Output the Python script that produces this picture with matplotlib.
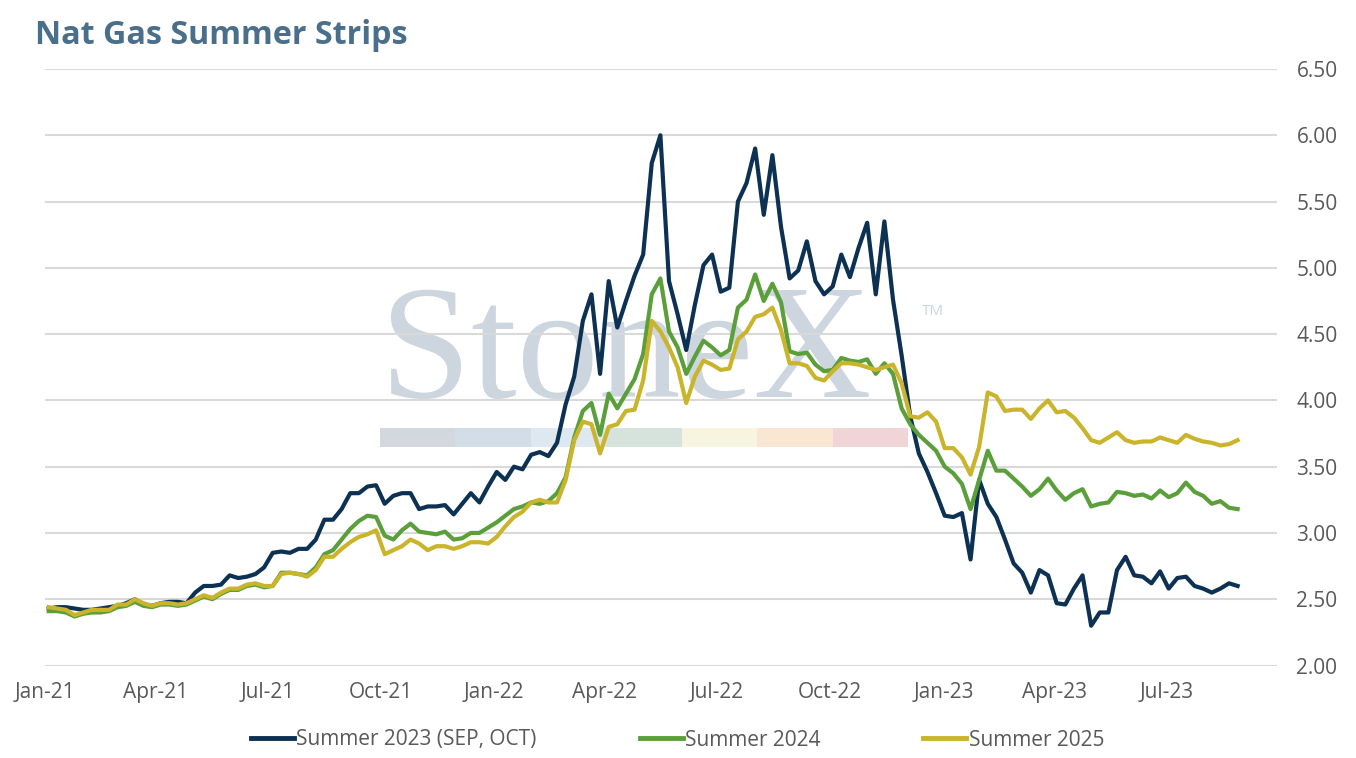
import numpy as np
import pandas as pd
import matplotlib
matplotlib.use("Agg")
import matplotlib.pyplot as plt
from matplotlib.lines import Line2D
from matplotlib.patches import Rectangle

# ---------------- data ----------------
dates = pd.date_range("2021-01-04", periods=139, freq="7D")

summer_2023 = [
    2.43, 2.44, 2.44, 2.43, 2.42, 2.42, 2.43, 2.44, 2.45, 2.47,
    2.50, 2.46, 2.45, 2.47, 2.48, 2.48, 2.47, 2.55, 2.60, 2.60,
    2.61, 2.68, 2.66, 2.67, 2.69, 2.74, 2.85, 2.86, 2.85, 2.88,
    2.88, 2.95, 3.10, 3.10, 3.18, 3.30, 3.30, 3.35, 3.36, 3.22,
    3.28, 3.30, 3.30, 3.18, 3.20, 3.20, 3.21, 3.14, 3.22, 3.30,
    3.23, 3.35, 3.46, 3.40, 3.50, 3.48, 3.59, 3.61, 3.58, 3.68,
    3.97, 4.18, 4.60, 4.80, 4.20, 4.90, 4.55, 4.75, 4.94, 5.10,
    5.79, 6.00, 4.90, 4.65, 4.38, 4.72, 5.02, 5.10, 4.82, 4.85,
    5.50, 5.64, 5.90, 5.40, 5.85, 5.31, 4.92, 4.98, 5.20, 4.90,
    4.80, 4.86, 5.10, 4.93, 5.15, 5.34, 4.80, 5.35, 4.76, 4.34,
    3.88, 3.60, 3.46, 3.30, 3.13, 3.12, 3.15, 2.80, 3.40, 3.22,
    3.12, 2.95, 2.77, 2.70, 2.55, 2.72, 2.68, 2.47, 2.46, 2.58,
    2.68, 2.30, 2.40, 2.40, 2.72, 2.82, 2.68, 2.67, 2.62, 2.71,
    2.58, 2.66, 2.67, 2.60, 2.58, 2.55, 2.58, 2.62, 2.60,
]

summer_2024 = [
    2.41, 2.41, 2.40, 2.37, 2.39, 2.40, 2.40, 2.41, 2.44, 2.45,
    2.48, 2.45, 2.44, 2.46, 2.46, 2.45, 2.46, 2.49, 2.52, 2.50,
    2.54, 2.57, 2.57, 2.60, 2.61, 2.59, 2.60, 2.70, 2.70, 2.69,
    2.68, 2.74, 2.84, 2.87, 2.95, 3.03, 3.09, 3.13, 3.12, 2.98,
    2.95, 3.02, 3.07, 3.01, 3.00, 2.99, 3.01, 2.95, 2.96, 3.00,
    3.00, 3.04, 3.08, 3.13, 3.18, 3.20, 3.23, 3.22, 3.24, 3.30,
    3.42, 3.72, 3.92, 3.98, 3.74, 4.05, 3.94, 4.05, 4.16, 4.35,
    4.80, 4.92, 4.52, 4.40, 4.20, 4.33, 4.45, 4.40, 4.34, 4.38,
    4.70, 4.76, 4.95, 4.75, 4.88, 4.74, 4.37, 4.35, 4.36, 4.27,
    4.22, 4.23, 4.32, 4.30, 4.29, 4.31, 4.20, 4.28, 4.20, 3.94,
    3.82, 3.74, 3.68, 3.62, 3.50, 3.45, 3.37, 3.18, 3.40, 3.62,
    3.47, 3.47, 3.41, 3.35, 3.28, 3.33, 3.41, 3.32, 3.25, 3.30,
    3.33, 3.20, 3.22, 3.23, 3.31, 3.30, 3.28, 3.29, 3.26, 3.32,
    3.27, 3.30, 3.38, 3.31, 3.28, 3.22, 3.24, 3.19, 3.18,
]

summer_2025 = [
    2.44, 2.43, 2.42, 2.38, 2.40, 2.42, 2.42, 2.42, 2.46, 2.46,
    2.50, 2.47, 2.45, 2.47, 2.47, 2.46, 2.47, 2.50, 2.53, 2.51,
    2.55, 2.58, 2.58, 2.61, 2.62, 2.60, 2.60, 2.69, 2.70, 2.69,
    2.67, 2.72, 2.82, 2.82, 2.88, 2.93, 2.97, 2.99, 3.02, 2.84,
    2.87, 2.90, 2.95, 2.92, 2.87, 2.90, 2.90, 2.88, 2.90, 2.93,
    2.93, 2.92, 2.97, 3.05, 3.12, 3.16, 3.23, 3.25, 3.23, 3.23,
    3.40, 3.70, 3.84, 3.82, 3.60, 3.80, 3.82, 3.92, 3.93, 4.15,
    4.60, 4.52, 4.40, 4.25, 3.98, 4.18, 4.30, 4.27, 4.23, 4.24,
    4.46, 4.52, 4.63, 4.65, 4.70, 4.53, 4.28, 4.28, 4.26, 4.17,
    4.15, 4.22, 4.28, 4.28, 4.27, 4.25, 4.23, 4.25, 4.27, 4.13,
    3.88, 3.87, 3.91, 3.84, 3.64, 3.64, 3.57, 3.44, 3.65, 4.06,
    4.03, 3.92, 3.93, 3.93, 3.86, 3.94, 4.00, 3.91, 3.92, 3.87,
    3.79, 3.70, 3.68, 3.72, 3.76, 3.70, 3.68, 3.69, 3.69, 3.72,
    3.70, 3.68, 3.74, 3.71, 3.69, 3.68, 3.66, 3.67, 3.70,
]

series_labels = ["Summer 2023 (SEP, OCT)", "Summer 2024", "Summer 2025"]
series_colors = ["#0c3152", "#5b9f3b", "#c9b42c"]

x_tick_dates = ["2021-01-01", "2021-04-01", "2021-07-01", "2021-10-01",
                "2022-01-01", "2022-04-01", "2022-07-01", "2022-10-01",
                "2023-01-01", "2023-04-01", "2023-07-01"]
x_tick_labels = ["Jan-21", "Apr-21", "Jul-21", "Oct-21", "Jan-22", "Apr-22",
                 "Jul-22", "Oct-22", "Jan-23", "Apr-23", "Jul-23"]
y_ticks = [2.0, 2.5, 3.0, 3.5, 4.0, 4.5, 5.0, 5.5, 6.0, 6.5]

# ---------------- figure ----------------
W, H = 1356, 758
plt.rcParams["font.family"] = ["Open Sans", "DejaVu Sans"]
fig = plt.figure(figsize=(W / 100, H / 100), dpi=100)
fig.patch.set_facecolor("white")

L, R, T, B = 45, 1277, 69, 665.5
ax = fig.add_axes([L / W, 1 - B / H, (R - L) / W, (B - T) / H])

def fx(px):
    return px / W

def fy(py):
    return 1 - py / H

# watermark (behind grid and lines)
ax.text(fx(380), fy(397), "StoneX", transform=fig.transFigure, family="Liberation Serif",
        fontsize=118, color="#cdd5de", ha="left", va="baseline", zorder=0.1, clip_on=False)
ax.text(fx(922), fy(311), "TM", transform=fig.transFigure, fontsize=11,
        color="#cdd5de", ha="left", va="center", zorder=0.1, clip_on=False)
bar_colors = ["#d3d8df", "#d3dde8", "#dde8f1", "#d5e3dc", "#f7f5df", "#f9e7d3", "#f0d5d7"]
seg_w = (908 - 380) / len(bar_colors)
for i, c in enumerate(bar_colors):
    ax.add_patch(Rectangle((fx(380 + i * seg_w), fy(447)), seg_w / W, 19 / H,
                           transform=fig.transFigure, facecolor=c, edgecolor="none",
                           zorder=0.2, clip_on=False))

for vals, lab, col in zip([summer_2023, summer_2024, summer_2025], series_labels, series_colors):
    ax.plot(dates, vals, color=col, lw=3.0, label=lab, zorder=2, solid_joinstyle="round")

ax.set_ylim(2.0, 6.5)
ax.set_xlim(pd.Timestamp("2021-01-01"), pd.Timestamp("2023-09-29"))
ax.set_yticks(y_ticks)
ax.set_yticklabels([f"{v:.2f}" for v in y_ticks])
ax.yaxis.tick_right()
ax.set_xticks(pd.to_datetime(x_tick_dates))
ax.set_xticklabels(x_tick_labels)
ax.tick_params(axis="y", length=0, pad=14, labelsize=15, labelcolor="#595959")
ax.tick_params(axis="x", length=0, pad=12, labelsize=15, labelcolor="#595959")
ax.grid(axis="y", color="#d9d9d9", lw=1.5)
ax.set_axisbelow(True)
for s in ax.spines.values():
    s.set_visible(False)

fig.text(fx(35), fy(35), "Nat Gas Summer Strips", fontsize=23.2, fontweight="bold",
         color="#4a6f8a", ha="left", va="center")

handles = [Line2D([0], [0], color=c, lw=3.5) for c in series_colors]
leg = fig.legend(handles, series_labels, loc="center", bbox_to_anchor=(0.4996, fy(740)),
                 ncol=3, frameon=False, fontsize=15, handlelength=2.07,
                 handletextpad=0.1, columnspacing=4.95)
for t in leg.get_texts():
    t.set_color("#595959")

fig.savefig("out.png", dpi=100, facecolor="white")
